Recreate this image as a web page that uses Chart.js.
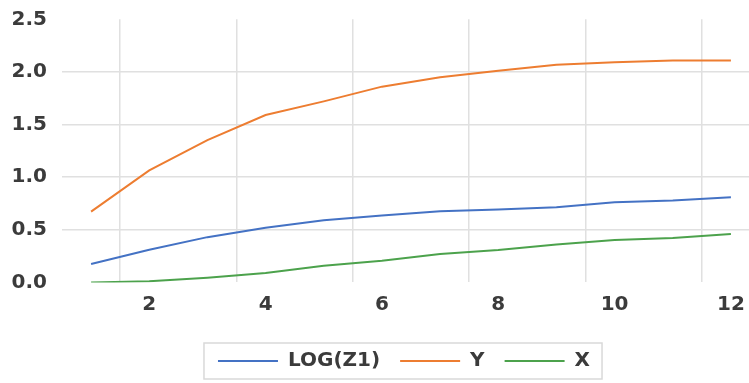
<!DOCTYPE html>
<html>
<head>
<meta charset="utf-8">
<script src="https://cdn.jsdelivr.net/npm/chart.js@4.4.1/dist/chart.umd.min.js"></script>
<style>
  html, body { margin: 0; padding: 0; background: #fff; overflow: hidden; width: 749px; height: 383px; }
  #wrap { width: 808px; height: 383px; }
</style>
</head>
<body>
<div id="wrap"><canvas id="c" width="808" height="383"></canvas></div>
<script>
// Categories along the horizontal axis
const categories = ['1', '2', '3', '4', '5', '6', '7', '8', '9', '10', '11', '12'];
// Labels shown under the horizontal axis
const xTickLabels = ['2', '4', '6', '8', '10', '12'];

// Series values
const logZ1Values = [0.175, 0.31, 0.43, 0.52, 0.59, 0.636, 0.677, 0.693, 0.715, 0.762, 0.779, 0.81];
const yValues     = [0.672, 1.065, 1.352, 1.59, 1.72, 1.86, 1.95, 2.01, 2.067, 2.093, 2.108, 2.108];
const xValues     = [0.0, 0.01, 0.045, 0.09, 0.158, 0.206, 0.27, 0.308, 0.359, 0.403, 0.423, 0.461];

const TEXT = '#3b3b3b';
const GRID = '#e0e0e0';
const FONT = { family: '"DejaVu Sans", sans-serif', size: 20, weight: 'bold' };

// Light frame around the legend entries
const legendFrame = {
  id: 'legendFrame',
  afterDraw(chart) {
    const boxes = chart.legend && chart.legend.legendHitBoxes;
    if (!boxes || !boxes.length) return;
    const first = boxes[0], last = boxes[boxes.length - 1];
    const left = first.left - 14;
    const right = last.left + last.width + 12;
    const cy = first.top + first.height / 2;
    const c = chart.ctx;
    c.save();
    c.strokeStyle = '#d9d9d9';
    c.lineWidth = 1.5;
    c.strokeRect(left, cy - 18, right - left, 36);
    c.restore();
  }
};

new Chart(document.getElementById('c'), {
  type: 'line',
  data: {
    labels: categories,
    datasets: [
      { label: 'LOG(Z1)', data: logZ1Values, borderColor: '#4472C4', backgroundColor: '#4472C4' },
      { label: 'Y', data: yValues, borderColor: '#ED7D31', backgroundColor: '#ED7D31' },
      { label: 'X', data: xValues, borderColor: '#4CA24C', backgroundColor: '#4CA24C' }
    ]
  },
  options: {
    responsive: false,
    animation: false,
    events: [],
    elements: {
      line: { borderWidth: 2, tension: 0, fill: false },
      point: { radius: 0 }
    },
    layout: { padding: { top: 19.3, bottom: 2, left: 0, right: 0 } },
    plugins: {
      tooltip: { enabled: false },
      legend: {
        position: 'bottom',
        labels: {
          boxWidth: 60,
          boxHeight: 2,
          padding: 20,
          color: TEXT,
          font: FONT,
          generateLabels(chart) {
            const items = Chart.defaults.plugins.legend.labels.generateLabels(chart);
            items.forEach(it => { it.lineWidth = 0; it.fillStyle = it.strokeStyle; });
            return items;
          }
        }
      }
    },
    scales: {
      x: {
        type: 'category',
        offset: true,
        grid: {
          offset: true,
          drawTicks: false,
          lineWidth: 1.5,
          color: ctx => (ctx.index % 2 === 1 ? GRID : 'rgba(0,0,0,0)')
        },
        border: { display: false },
        ticks: {
          autoSkip: false,
          maxRotation: 0,
          padding: 10,
          color: TEXT,
          font: FONT,
          callback(value) {
            const label = this.getLabelForValue(value);
            return xTickLabels.includes(label) ? label : '';
          }
        },
        afterFit(scale) { scale.height = 48.6; }
      },
      y: {
        min: 0,
        max: 2.5,
        ticks: {
          stepSize: 0.5,
          padding: 15,
          color: TEXT,
          font: FONT,
          callback: v => v.toFixed(1)
        },
        grid: {
          drawTicks: false,
          lineWidth: 1.5,
          color: ctx => (ctx.tick && (ctx.tick.value === 0 || ctx.tick.value === 2.5)) ? 'rgba(0,0,0,0)' : GRID
        },
        border: { display: false },
        afterFit(scale) {
          scale.width = 62;
          scale.paddingTop = 0;
          scale.paddingBottom = 0;
        }
      },
      yRight: {
        position: 'right',
        ticks: { display: false },
        grid: { display: false },
        border: { display: false },
        afterFit(scale) { scale.width = 48; }
      }
    }
  },
  plugins: [legendFrame]
});
</script>
</body>
</html>
